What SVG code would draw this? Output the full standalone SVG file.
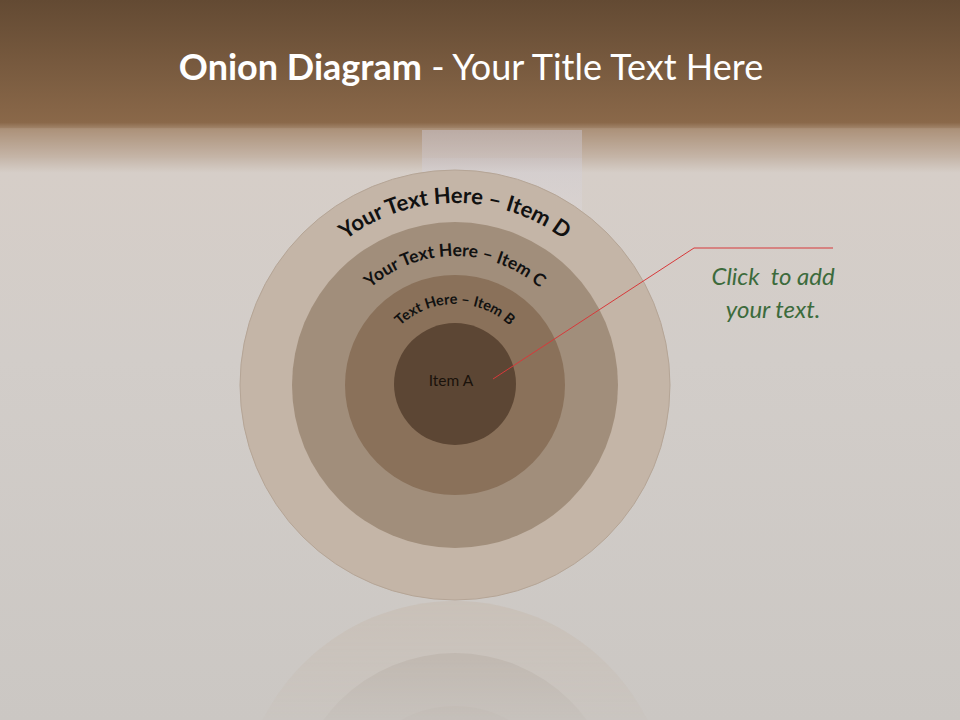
<svg xmlns="http://www.w3.org/2000/svg" xmlns:xlink="http://www.w3.org/1999/xlink" width="960" height="720" viewBox="0 0 960 720">
<defs>
<linearGradient id="bg" x1="0" y1="0" x2="0" y2="1">
<stop offset="0" stop-color="#634a33"/>
<stop offset="0.17" stop-color="#8a6849"/>
<stop offset="0.18" stop-color="#a68a70"/>
<stop offset="0.24" stop-color="#d6cec8"/>
<stop offset="0.5" stop-color="#d2cdc9"/>
<stop offset="1" stop-color="#cbc7c3"/>
</linearGradient>
<linearGradient id="win" x1="0" y1="0" x2="0" y2="1">
<stop offset="0" stop-color="#c8c4d0" stop-opacity="0.55"/>
<stop offset="0.25" stop-color="#dcd8dc" stop-opacity="0.35"/>
<stop offset="1" stop-color="#d6d3cf" stop-opacity="0"/>
</linearGradient>
<linearGradient id="refl" x1="0" y1="0" x2="0" y2="1">
<stop offset="0" stop-color="#fff" stop-opacity="0.4"/>
<stop offset="1" stop-color="#fff" stop-opacity="0.08"/>
</linearGradient>
<mask id="rm"><rect x="0" y="600" width="960" height="120" fill="url(#refl)"/></mask>
<path id="arcD" d="M 274,384 A 181 181 0 0 1 636,384"/>
<path id="arcC" d="M 327,384 A 128 128 0 0 1 583,384"/>
<path id="arcB" d="M 375,384 A 80 80 0 0 1 535,384"/>
<style>
.arc{font-family:Lato,"Open Sans","Liberation Sans",sans-serif;font-weight:bold;fill:#111;}
.ttl{font-family:Lato,"Open Sans","Liberation Sans",sans-serif;font-size:36px;fill:#fff;}
.note{font-family:Lato,"Open Sans","Liberation Sans",sans-serif;font-style:italic;font-size:24px;fill:#3c6b3c;white-space:pre;}
</style>
</defs>
<rect width="960" height="720" fill="url(#bg)"/>
<rect x="422" y="130" width="160" height="300" fill="url(#win)"/>
<rect x="0" y="128" width="960" height="30" fill="#c8b6a4" opacity="0.2"/>
<text class="ttl" x="471" y="80" text-anchor="middle"><tspan font-weight="bold">Onion Diagram</tspan> - Your Title Text Here</text>
<g id="reflection" mask="url(#rm)">
<circle cx="455" cy="816" r="215" fill="#c4b5a6"/>
<circle cx="455" cy="816" r="163" fill="#a08c79"/>
<circle cx="455" cy="816" r="110" fill="#8a7059"/>
</g>
<g id="itemD"><circle cx="455" cy="385" r="215" fill="#c4b5a7" stroke="#b5a596" stroke-width="1"/>
<text class="arc" font-size="22"><textPath xlink:href="#arcD" startOffset="50%" text-anchor="middle">Your Text Here – Item D</textPath></text></g>
<g id="itemC"><circle cx="455" cy="385" r="163" fill="#a18e7b"/>
<text class="arc" font-size="17.5"><textPath xlink:href="#arcC" startOffset="50%" text-anchor="middle">Your Text Here – Item C</textPath></text></g>
<g id="itemB"><circle cx="455" cy="385" r="110" fill="#8a715a"/>
<text class="arc" font-size="14.5"><textPath xlink:href="#arcB" startOffset="50%" text-anchor="middle">Text Here – Item B</textPath></text></g>
<g id="itemA"><circle cx="455" cy="384" r="61" fill="#5c4634"/>
<text x="451" y="386" text-anchor="middle" font-family="Lato,'Open Sans','Liberation Sans',sans-serif" font-size="15.5" fill="#1a120b">Item A</text></g>
<g id="connectors"><polyline points="493,379 694,248 833,248" fill="none" stroke="#d7393a" stroke-width="1"/></g>
<g id="note"><text class="note" text-anchor="middle"><tspan x="773" y="285">Click  to add</tspan><tspan x="773" y="318">your text.</tspan></text></g>
</svg>
